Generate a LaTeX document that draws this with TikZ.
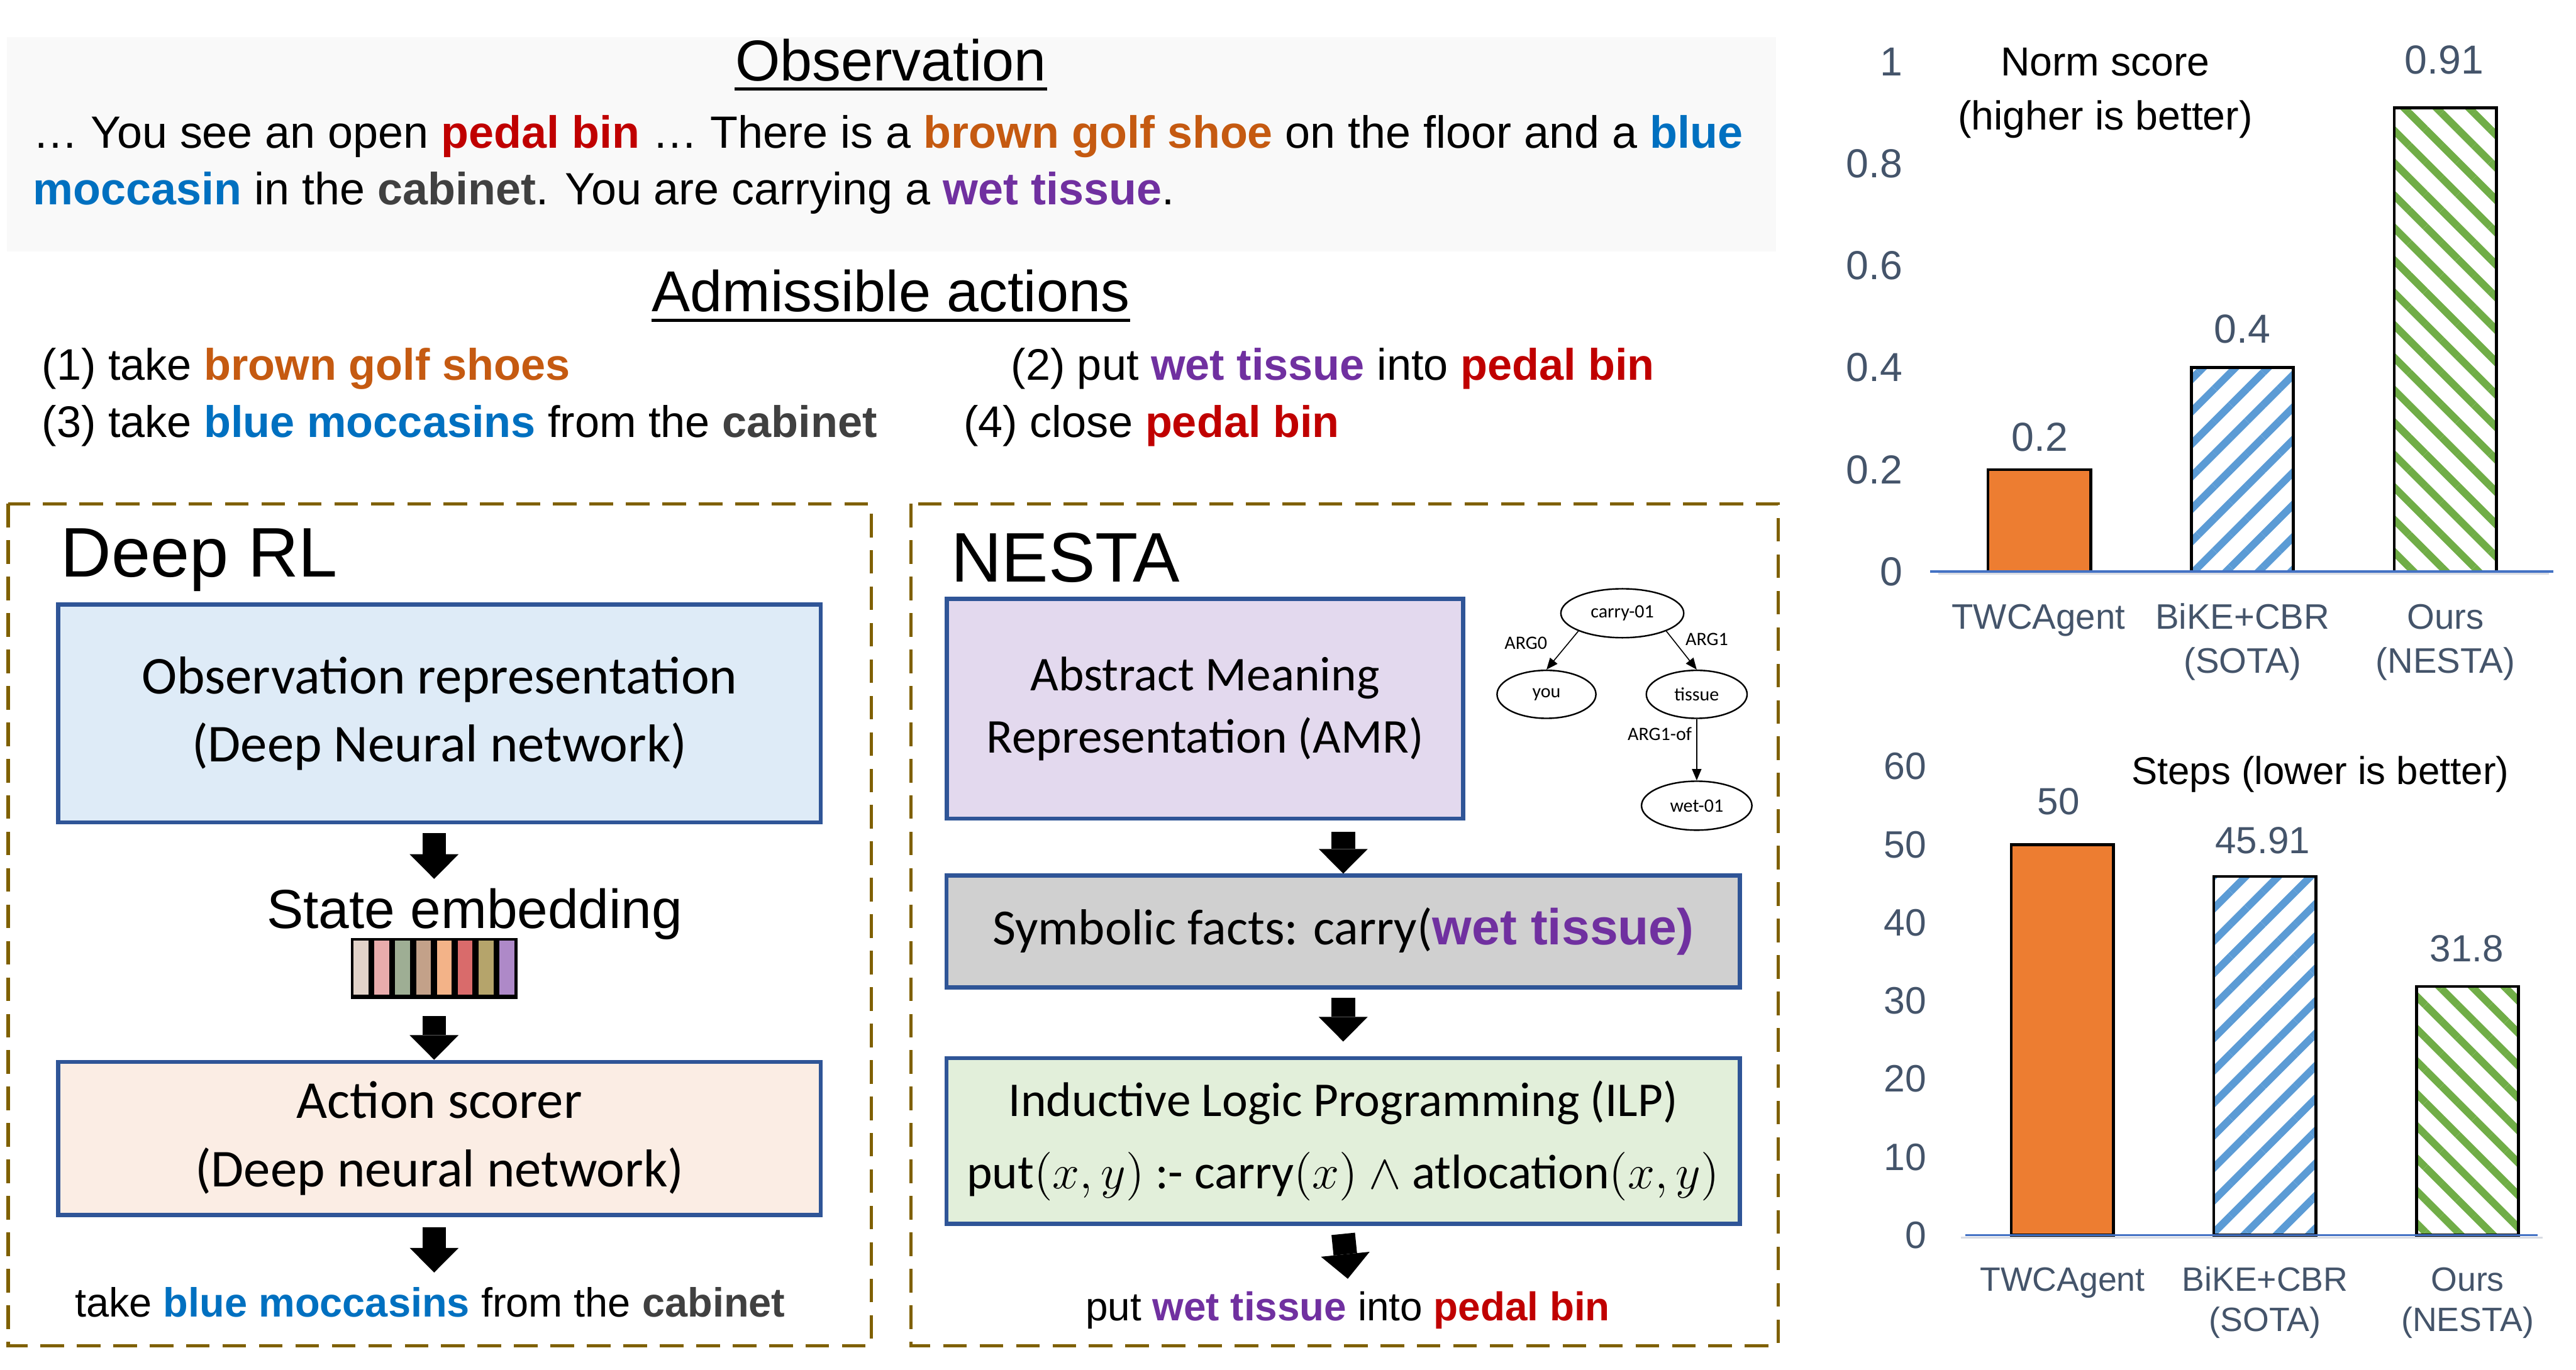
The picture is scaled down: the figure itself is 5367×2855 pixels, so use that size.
\documentclass[tikz,border=0pt]{standalone}
\usepackage{fontspec}
\setmainfont{Liberation Sans}
\newfontfamily\calib{Carlito}
\usetikzlibrary{shapes.geometric,arrows.meta,patterns.meta,calc}

\definecolor{pedalred}{HTML}{C00000}
\definecolor{shoebrown}{HTML}{C55A11}
\definecolor{mocblue}{HTML}{0070C0}
\definecolor{cabgray}{HTML}{404040}
\definecolor{tissuepurple}{HTML}{7030A0}
\definecolor{obsbg}{HTML}{F9F9F9}
\definecolor{boxblue}{HTML}{2F5597}
\definecolor{panelgold}{HTML}{7F6000}
\definecolor{obsblue}{HTML}{DEEBF7}
\definecolor{actpeach}{HTML}{FBEDE4}
\definecolor{amrpurple}{HTML}{E3D9EE}
\definecolor{factgray}{HTML}{D0D0D0}
\definecolor{ilpgreen}{HTML}{E2EFDA}
\definecolor{chartslate}{HTML}{44546A}
\definecolor{barorange}{HTML}{ED7D31}
\definecolor{hatchblue}{HTML}{5B9BD5}
\definecolor{hatchgreen}{HTML}{70AD47}
\definecolor{axisblue}{HTML}{4472C4}
\definecolor{axisshadow}{HTML}{D9DCE3}
\definecolor{embA}{HTML}{E2D3C9}
\definecolor{embB}{HTML}{E9ACAC}
\definecolor{embC}{HTML}{9EAE94}
\definecolor{embD}{HTML}{C3A189}
\definecolor{embE}{HTML}{F3B388}
\definecolor{embF}{HTML}{D96B6B}
\definecolor{embG}{HTML}{B5A46B}
\definecolor{embH}{HTML}{AE89C8}

\newcommand{\hlred}[1]{\textbf{\textcolor{pedalred}{#1}}}
\newcommand{\hlbrown}[1]{\textbf{\textcolor{shoebrown}{#1}}}
\newcommand{\hlblue}[1]{\textbf{\textcolor{mocblue}{#1}}}
\newcommand{\hlgray}[1]{\textbf{\textcolor{cabgray}{#1}}}
\newcommand{\hlpurple}[1]{\textbf{\textcolor{tissuepurple}{#1}}}

\tikzset{
  txt/.style={inner sep=0pt, anchor=base},
  panel/.style={draw=panelgold, line width=1pt, dash pattern=on 7pt off 3.8pt},
  modbox/.style={draw=boxblue, line width=1.25pt, align=center, inner sep=0pt},
  blockarrow/.style={line width=7pt, -{Triangle[width=14.5pt,length=7.3pt,line width=0pt]}},
  amrnode/.style={ellipse, draw, line width=0.45pt, inner sep=0pt, font=\calib\fontsize{5.6}{6.5}\selectfont},
  amredge/.style={line width=0.3pt, -{Triangle[width=2.8pt,length=3.4pt]}},
  amrlbl/.style={txt, font=\calib\fontsize{5.6}{6.5}\selectfont},
  barline/.style={draw=black, line width=0.85pt},
  bluehatch/.style={pattern={Lines[angle=45,distance=6.8pt,line width=2.2pt]}, pattern color=hatchblue},
  greenhatch/.style={pattern={Lines[angle=-45,distance=6.8pt,line width=2.2pt]}, pattern color=hatchgreen},
  chartlbl/.style={inner sep=0pt, text=chartslate}
}

\begin{document}
\begin{tikzpicture}[x=0.05mm,y=-0.05mm]
  \useasboundingbox (0,0) rectangle (5367,2855);

  % observation
  \fill[obsbg] (15,77) rectangle (3700,524);
  \node[txt, font=\fontsize{17.1}{20}\selectfont] (obstitle) at (1856,169) {Observation};
  \draw[line width=0.9pt] ([yshift=-2.3pt]obstitle.base west) -- ([yshift=-2.3pt]obstitle.base east);
  \node[txt, anchor=base west, font=\fontsize{13.4}{16}\selectfont] (obsline1) at (68,309)
    {… You see an open \hlred{pedal bin} … There is a \hlbrown{brown golf shoe} on the floor and a \hlblue{blue}};
  \node[txt, anchor=base west, font=\fontsize{13.4}{16}\selectfont] (obsline2) at (68,426)
    {\hlblue{moccasin} in the \hlgray{cabinet}. You are carrying a \hlpurple{wet tissue}.};

  % admissible actions
  \node[txt, font=\fontsize{17.1}{20}\selectfont] (acttitle) at (1856,649) {Admissible actions};
  \draw[line width=0.9pt] ([yshift=-2.7pt]acttitle.base west) -- ([yshift=-2.7pt]acttitle.base east);
  \node[txt, anchor=base west, font=\fontsize{13.1}{16}\selectfont] (actone) at (86,792) {(1) take \hlbrown{brown golf shoes}};
  \node[txt, anchor=base west, font=\fontsize{13.1}{16}\selectfont] (acttwo) at (2105,792) {(2) put \hlpurple{wet tissue} into \hlred{pedal bin}};
  \node[txt, anchor=base west, font=\fontsize{13.1}{16}\selectfont] (actthree) at (86,911) {(3) take \hlblue{blue moccasins} from the \hlgray{cabinet}};
  \node[txt, anchor=base west, font=\fontsize{13.1}{16}\selectfont] (actfour) at (2006,911) {(4) close \hlred{pedal bin}};

  % deep rl panel
  \draw[panel] (17,1050) rectangle (1815,2805);
  \node[txt, anchor=base west, font=\fontsize{20.8}{24}\selectfont] (deeprl) at (125,1202) {Deep RL};
  \node[modbox, fill=obsblue, minimum width=79.45mm, minimum height=22.7mm, font=\calib\fontsize{15.8}{20.1}\selectfont]
    (obsrep) at (915.5,1487) {Observation representation\\(Deep Neural network)};
  \node[txt, font=\fontsize{16.3}{18}\selectfont] (embtitle) at (989,1935) {State embedding};
  \node[fill=black, inner sep=0pt, minimum width=17.35mm, minimum height=6.35mm] (embvec) at (904.5,2018.5) {};
  \foreach \c [count=\i from 0] in {embA,embB,embC,embD,embE,embF,embG,embH}
    \fill[\c] ($(embvec.north west)+(7+43.4*\i,7)$) rectangle ++(31,112);
  \node[modbox, fill=actpeach, minimum width=79.45mm, minimum height=15.95mm, font=\calib\fontsize{15.8}{20.3}\selectfont]
    (actscore) at (915.5,2372.5) {Action scorer\\(Deep neural network)};
  \node[txt, font=\fontsize{12.1}{14}\selectfont] (rlout) at (896,2745) {take \hlblue{blue moccasins} from the \hlgray{cabinet}};
  \draw[blockarrow] ($(obsrep.south -| embvec)+(0,18)$) -- ($(embtitle.north -| embvec)+(0,-19)$);
  \draw[blockarrow] ($(embvec.south)+(0,34)$) -- (actscore.north -| embvec);
  \draw[blockarrow] ($(actscore.south -| embvec)+(0,21)$) -- ($(rlout.north -| embvec)+(0,-30)$);

  % nesta panel
  \draw[panel] (1898,1050) rectangle (3705,2805);
  \node[txt, anchor=base west, font=\fontsize{20.8}{24}\selectfont] (nesta) at (1980,1213) {NESTA};
  \node[modbox, fill=amrpurple, minimum width=53.75mm, minimum height=22.9mm, font=\calib\fontsize{14.4}{18.5}\selectfont]
    (amr) at (2510.5,1477) {Abstract Meaning\\Representation (AMR)};
  \node[amrnode, minimum width=12.8mm, minimum height=5.1mm] (carry) at (3380,1278) {carry-01};
  \node[amrnode, minimum width=10.3mm, minimum height=5mm] (you) at (3222,1447) {you};
  \node[amrnode, minimum width=10.5mm, minimum height=5mm] (tissue) at (3535,1447) {tissue};
  \node[amrnode, minimum width=11.5mm, minimum height=5.1mm] (wet) at (3535,1679) {wet-01};
  \draw[amredge] (carry.south west) -- (you.north);
  \draw[amredge] (carry.south east) -- (tissue.north);
  \draw[amredge] (tissue) -- (wet);
  \node[amrlbl] (argzero) at (3179,1353) {ARG0};
  \node[amrlbl] (argone) at (3556,1345) {ARG1};
  \node[amrlbl] (argoneof) at (3458,1543) {ARG1-of};
  \node[modbox, fill=factgray, minimum width=82.65mm, minimum height=11.65mm, font=\calib\fontsize{15}{18}\selectfont]
    (symfacts) at (2798.5,1941.5) {Symbolic facts: carry({\rmfamily\hlpurple{wet tissue)}}};
  \node[modbox, fill=ilpgreen, minimum width=82.65mm, minimum height=17.25mm, font=\calib\fontsize{14.4}{21.3}\selectfont]
    (ilp) at (2798.5,2377.5) {Inductive Logic Programming (ILP)\\put$(x,y)$ :- carry$(x)$ $\wedge$ atlocation$(x,y)$};
  \node[txt, font=\fontsize{11.9}{14}\selectfont] (nesout) at (2808,2752) {put \hlpurple{wet tissue} into \hlred{pedal bin}};
  \draw[blockarrow] ($(symfacts.north |- amr.south)+(0,23)$) -- (symfacts.north);
  \draw[blockarrow] ($(symfacts.south)+(0,17)$) -- ($(ilp.north)+(0,-30)$);
  \draw[blockarrow] ($(ilp.south)+(0,17)$) -- ($(nesout.north)+(0,-25)$);

  % norm score chart
  \foreach \v [count=\k] in {0,0.2,0.4,0.6,0.8,1}
    \node[chartlbl, anchor=east, font=\fontsize{12}{14}\selectfont] (ntick\k) at (3965,{1191-1062*\v}) {\v};
  \node[txt, font=\fontsize{12}{14}\selectfont] (normtitle) at (4386,158) {Norm score};
  \node[txt, font=\fontsize{12}{14}\selectfont] (normsub) at (4386,270) {(higher is better)};
  \draw[barline, fill=barorange] (4142,1191) rectangle (4356,979);
  \draw[barline, bluehatch] (4566,1191) rectangle (4778,766);
  \draw[barline, greenhatch] (4988,1191) rectangle (5201,225);
  \draw[axisshadow, line width=0.6pt] (4038,1196) -- (5310,1196);
  \draw[axisblue, line width=0.6pt] (4021,1191) -- (5320,1191);
  \node[chartlbl, font=\fontsize{12}{14}\selectfont] (nvalone) at (4250,911) {0.2};
  \node[chartlbl, font=\fontsize{12}{14}\selectfont] (nvaltwo) at (4672,686) {0.4};
  \node[chartlbl, font=\fontsize{12}{14}\selectfont] (nvalthree) at (5092,125) {0.91};
  \node[chartlbl, txt, font=\fontsize{10.5}{12}\selectfont] (ncatone) at (4247,1311) {TWCAgent};
  \node[chartlbl, txt, font=\fontsize{10.5}{12}\selectfont] (ncattwo) at (4672,1311) {BiKE+CBR};
  \node[chartlbl, txt, font=\fontsize{10.5}{12}\selectfont] (ncattwob) at (4672,1403) {(SOTA)};
  \node[chartlbl, txt, font=\fontsize{10.5}{12}\selectfont] (ncatthree) at (5095,1311) {Ours};
  \node[chartlbl, txt, font=\fontsize{10.5}{12}\selectfont] (ncatthreeb) at (5095,1403) {(NESTA)};

  % steps chart
  \foreach \v [count=\k] in {0,10,...,60}
    \node[chartlbl, anchor=east, font=\fontsize{11.3}{13}\selectfont] (stick\k) at (4015,{2574-16.28*\v}) {\v};
  \node[txt, font=\fontsize{11.5}{14}\selectfont] (stepstitle) at (4834,1635) {Steps (lower is better)};
  \draw[barline, fill=barorange] (4190,2574) rectangle (4403,1760);
  \draw[barline, bluehatch] (4612,2574) rectangle (4825,1826.6);
  \draw[barline, greenhatch] (5035,2574) rectangle (5247,2056);
  \draw[axisshadow, line width=0.6pt] (4085,2579) -- (5297,2579);
  \draw[axisblue, line width=0.6pt] (4095,2574) -- (5287,2574);
  \node[chartlbl, font=\fontsize{11.2}{13}\selectfont] (svalone) at (4289,1671) {50};
  \node[chartlbl, font=\fontsize{11.2}{13}\selectfont] (svaltwo) at (4714,1752) {45.91};
  \node[chartlbl, font=\fontsize{11.2}{13}\selectfont] (svalthree) at (5139,1977) {31.8};
  \node[chartlbl, txt, font=\fontsize{10}{12}\selectfont] (scatone) at (4297,2691) {TWCAgent};
  \node[chartlbl, txt, font=\fontsize{10}{12}\selectfont] (scattwo) at (4719,2691) {BiKE+CBR};
  \node[chartlbl, txt, font=\fontsize{10}{12}\selectfont] (scattwob) at (4719,2774) {(SOTA)};
  \node[chartlbl, txt, font=\fontsize{10}{12}\selectfont] (scatthree) at (5141,2691) {Ours};
  \node[chartlbl, txt, font=\fontsize{10}{12}\selectfont] (scatthreeb) at (5141,2774) {(NESTA)};
\end{tikzpicture}
\end{document}
